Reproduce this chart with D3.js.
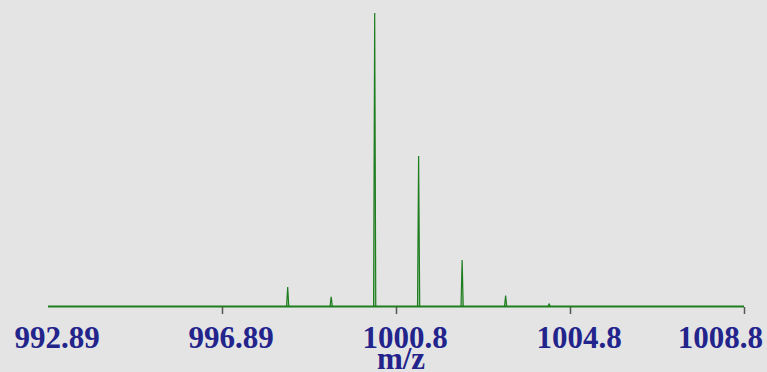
<!DOCTYPE html>
<html>
<head>
<meta charset="utf-8">
<script src="https://cdn.jsdelivr.net/npm/d3@7"></script>
<style>
  html, body { margin: 0; padding: 0; background: #e4e4e4; }
  svg { display: block; }
  .lbl { font-family: "Liberation Serif", Tinos, "Times New Roman", Times, "DejaVu Serif", serif; font-weight: bold; font-size: 31px; }
</style>
</head>
<body>
<svg id="chart" width="767" height="372"></svg>
<script>
// Isotope cluster: peak centroids (m/z) and relative intensities (%)
const peakMz = [998.40, 999.40, 1000.40, 1001.41, 1002.41, 1003.41, 1004.41];
const peakIntensity = [6.5, 3.1, 100, 51.2, 15.7, 3.6, 0.7];

// Axis ticks and their printed labels
const tickValues = [992.89, 996.89, 1000.89, 1004.89, 1008.89];
const tickLabels = ["992.89", "996.89", "1000.8", "1004.8", "1008.8"];
const axisTitle = "m/z";

const svg = d3.select("#chart");
const W = 767, H = 372;
const left = 48, right = 744, baseY = 306, topY = 13;

svg.append("rect").attr("width", W).attr("height", H).attr("fill", "#e4e4e4");

const x = d3.scaleLinear().domain([992.89, 1008.89]).range([left, right]);
const y = d3.scaleLinear().domain([0, 100]).range([baseY, topY]);

const green = "#1e7d1e";
const halfWidth = 0.025; // peak half-width in m/z units

// Profile path for each peak: baseline -> apex -> baseline
const line = d3.line().x(d => x(d[0])).y(d => y(d[1]));
svg.append("g").selectAll("path")
  .data(peakMz.map((m, i) => ({ m, v: peakIntensity[i] })))
  .join("path")
  .attr("d", d => line([[d.m - halfWidth, 0], [d.m, d.v], [d.m + halfWidth, 0]]))
  .attr("fill", "#5aa85a")
  .attr("fill-opacity", 0.5)
  .attr("stroke", green)
  .attr("stroke-width", 1.2);

// Baseline
svg.append("line")
  .attr("x1", x.range()[0]).attr("x2", x.range()[1])
  .attr("y1", baseY + 0.5).attr("y2", baseY + 0.5)
  .attr("stroke", green).attr("stroke-width", 2);

// Tick marks (none at the very first value)
svg.append("g").selectAll("line")
  .data(tickValues.slice(1))
  .join("line")
  .attr("x1", d => Math.round(x(d)) + 0.5).attr("x2", d => Math.round(x(d)) + 0.5)
  .attr("y1", baseY + 1).attr("y2", baseY + 8)
  .attr("stroke", "#555").attr("stroke-width", 1.5);

// Tick labels, kept inside the right edge
const labelColor = "#23238c";
const labels = svg.append("g").selectAll("text")
  .data(tickValues)
  .join("text")
  .attr("class", "lbl")
  .attr("x", d => x(d) + 9)
  .attr("y", 348)
  .attr("text-anchor", "middle")
  .attr("fill", labelColor)
  .text((d, i) => tickLabels[i]);

labels.each(function() {
  const bb = this.getBBox();
  const over = bb.x + bb.width - (W - 4);
  if (over > 0) d3.select(this).attr("x", +d3.select(this).attr("x") - over);
});

svg.append("text")
  .attr("class", "lbl")
  .attr("x", (x.range()[0] + x.range()[1]) / 2 + 5)
  .attr("y", 369)
  .attr("text-anchor", "middle")
  .attr("fill", labelColor)
  .text(axisTitle);
</script>
</body>
</html>
